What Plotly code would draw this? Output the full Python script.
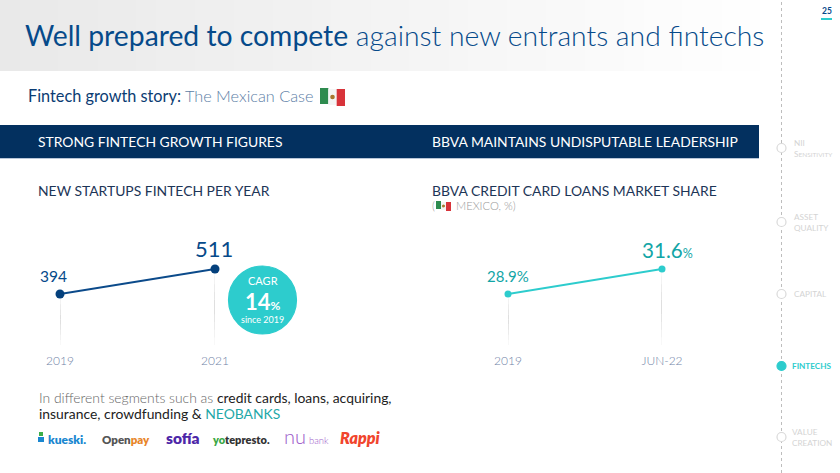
"""Fintech slide: two small line charts plus the slide furniture round them."""
import plotly.graph_objects as go

W, H = 840, 473
NAVY = "#03305f"
BLUE = "#064a8a"
TEAL = "#2dcccd"
DARK_TEAL = "#12a5a6"

startup_years = ["2019", "2021"]
startup_counts = [394, 511]
share_periods = ["2019", "JUN-22"]
share_values = [28.9, 31.6]

nav_labels = ["NII<br>S<span style='font-size:6.5px'>ENSITIVITY</span>", "ASSET<br>QUALITY", "CAPITAL", "FINTECHS", "VALUE<br>CREATION"]
nav_y = [148, 222, 294, 366, 437]
nav_x = [793, 793, 793, 791, 791]
nav_active = "FINTECHS"

logos = [
    ("kueski.", 67, 439, 12, "#1a87d0"),
    ("<span style='fill:#555555'>Open</span>pay", 126, 439, 11.5, "#e8862a"),
    ("sofía", 182, 438, 15.5, "#4d27a8"),
    ("<span style='fill:#3aa845'>yo</span>tepresto.", 241, 439, 11, "#333333"),
    ("nu", 295, 436, 20, "#9b59c9"),
    ("bank", 319, 440, 9.5, "#9b59c9"),
    ("<i>Rappi</i>", 360, 437, 16, "#f1452d"),
]
thin_logos = ["nu", "bank"]

fig = go.Figure()
shapes, notes = [], []


def px(x):
    return x / W


def py(y):
    return 1 - y / H


def rect(x0, y0, x1, y1, color):
    shapes.append(dict(type="rect", xref="paper", yref="paper", x0=px(x0), x1=px(x1),
                       y0=py(y0), y1=py(y1), fillcolor=color, line_width=0, layer="below"))


def circle(cx, cy, r, fill, line=None):
    shapes.append(dict(type="circle", xref="paper", yref="paper", x0=px(cx - r), x1=px(cx + r),
                       y0=py(cy - r), y1=py(cy + r), fillcolor=fill,
                       line=dict(color=line or fill, width=1.2), layer="below"))


def note(x, y, text, size, color, anchor="left", weight=400):
    notes.append(dict(xref="paper", yref="paper", x=px(x), y=py(y), text=text, showarrow=False,
                      xanchor=anchor, yanchor="middle", align=anchor, borderpad=0,
                      font=dict(family="Lato", size=size, color=color, weight=weight)))


def flag(x, y, w, h):
    # small waving Mexican flag
    third = w / 3
    rect(x, y, x + third, y + h - 1, "#2e8b4f")
    rect(x + third, y + 1, x + 2 * third, y + h, "#f4f4f4")
    rect(x + 2 * third, y + 1, x + w, y + h + 1, "#d8333a")
    circle(x + w / 2, y + h / 2 + 0.5, h * 0.1, "#a8772f")


# title band fades to white towards the sidebar
steps = 40
for i in range(steps):
    level = 233 + round(22 * i / (steps - 1))
    rect(780 * i / steps, 0, 780 * (i + 1) / steps + 1, 71, f"rgb({level},{level},{level})")

note(24, 35, "<span style='font-weight:400'>Well prepared to compete</span> against new entrants and ﬁntechs",
     28.3, BLUE, weight=300)
note(27, 96, "<span style='font-weight:400;fill:#0b3c73'>Fintech growth story:</span> The Mexican Case",
     16.3, "#5c7ea6", weight=300)
flag(320, 88, 25, 17)

rect(0, 125, 759, 158, NAVY)
rect(0, 158, 759, 159, "#b9c6d8")
note(37, 141, "STRONG FINTECH GROWTH FIGURES", 13.9, "#ffffff")
note(431, 141, "BBVA MAINTAINS UNDISPUTABLE LEADERSHIP", 13.9, "#ffffff")
note(37, 190, "NEW STARTUPS FINTECH PER YEAR", 13.9, "#1d3557")
note(431, 190, "BBVA CREDIT CARD LOANS MARKET SHARE", 13.9, "#1d3557")
note(431, 205, "(", 11.2, "#9a9a9a", weight=300)
flag(436, 201, 15, 9)
note(455, 205, "MEXICO, %)", 11.2, "#9a9a9a", weight=300)

# charts
fig.add_trace(go.Scatter(x=startup_years, y=startup_counts, mode="lines+markers", xaxis="x", yaxis="y",
                         line=dict(color="#0b4a8a", width=2), marker=dict(color="#04407c", size=9),
                         cliponaxis=False, hoverinfo="x+y"))
fig.add_trace(go.Scatter(x=share_periods, y=share_values, mode="lines+markers", xaxis="x2", yaxis="y2",
                         line=dict(color=TEAL, width=2), marker=dict(color=TEAL, size=7),
                         cliponaxis=False, hoverinfo="x+y"))

# fading drop lines under each point, stopping just above the tick labels
for xref, yref, bottom, vals in [("x", "y", 155, startup_counts), ("x2", "y2", 23.4, share_values)]:
    for pos, val in enumerate(vals):
        segs = 10
        for s in range(segs):
            y0 = val + (bottom - val) * s / segs
            y1 = val + (bottom - val) * (s + 1) / segs
            shapes.append(dict(type="line", xref=xref, yref=yref, x0=pos, x1=pos, y0=y0, y1=y1,
                               line=dict(color="#d4d4d4", width=1.5), opacity=min(s + 1, segs - s) / 5,
                               layer="below"))

note(39, 276, "394", 15.5, BLUE)
note(214.5, 249, "511", 22, BLUE, anchor="center")
note(508, 276, "28.9%", 15, DARK_TEAL, anchor="center")
note(667, 250, "31.6<span style='font-size:12.5px'>%</span>", 20.6, DARK_TEAL, anchor="center")

circle(262.5, 300, 34, TEAL)
note(262.5, 280.5, "CAGR", 11, "#ffffff", anchor="center")
note(262.5, 301.5, "14<span style='font-size:12px'>%</span>", 22, "#ffffff", anchor="center", weight=700)
note(262.5, 319, "since 2019", 9, "#ffffff", anchor="center")

note(38, 397, "In different segments such as <span style='fill:#222222;font-weight:400'>credit cards, loans, acquiring,</span>",
     13.9, "#666666", weight=300)
note(38, 413, "<span style='fill:#222222'>insurance, crowdfunding &amp;</span> <span style='fill:#1fa8a8'>NEOBANKS</span>",
     13.9, "#222222", weight=400)

rect(38, 437, 44, 442, "#1a87d0")
rect(39, 432, 43, 436, "#3dae49")
for name, x, y, size, color in logos:
    note(x, y, name, size, color, anchor="center", weight=300 if name in thin_logos else 800)

# sidebar
shapes.append(dict(type="line", xref="paper", yref="paper", x0=px(781.5), x1=px(781.5), y0=0, y1=1,
                   line=dict(color="#bdbdbd", width=1, dash="dot"), layer="below"))
for label, x, y in zip(nav_labels, nav_x, nav_y):
    active = label == nav_active
    circle(781.5, y, 4.5, TEAL if active else "#ffffff", TEAL if active else "#d9d9d9")
    note(x, y, label, 8.2, TEAL if active else "#d4d4d4", weight=700 if active else 400)
note(826.5, 11, "25", 8.5, BLUE, anchor="center", weight=700)
rect(821, 18, 832, 20, TEAL)

axis_common = dict(type="category", range=[0, 1], showgrid=False, zeroline=False, showline=False, ticklen=0,
                   automargin=False, tickfont=dict(family="Lato", size=12, color="#6f82a6", weight=300),
                   fixedrange=True)
hidden_y = dict(visible=False, fixedrange=True, automargin=False)

fig.update_layout(
    width=W, height=H, autosize=False, showlegend=False,
    margin=dict(l=0, r=0, t=0, b=0),
    paper_bgcolor="#ffffff", plot_bgcolor="rgba(0,0,0,0)",
    xaxis=dict(axis_common, domain=[px(60), px(215)], anchor="y"),
    yaxis=dict(hidden_y, domain=[py(352), py(250)], range=[122.6, 600], anchor="x"),
    xaxis2=dict(axis_common, domain=[px(508), px(662)], anchor="y2"),
    yaxis2=dict(hidden_y, domain=[py(352), py(250)], range=[22.64, 33.65], anchor="x2"),
    shapes=shapes, annotations=notes,
)

# the page's default body margin would push the slide off the window
fig.write_html("out.html", config=dict(displayModeBar=False),
               post_script="document.body.style.margin='0';document.body.style.overflow='hidden';")
